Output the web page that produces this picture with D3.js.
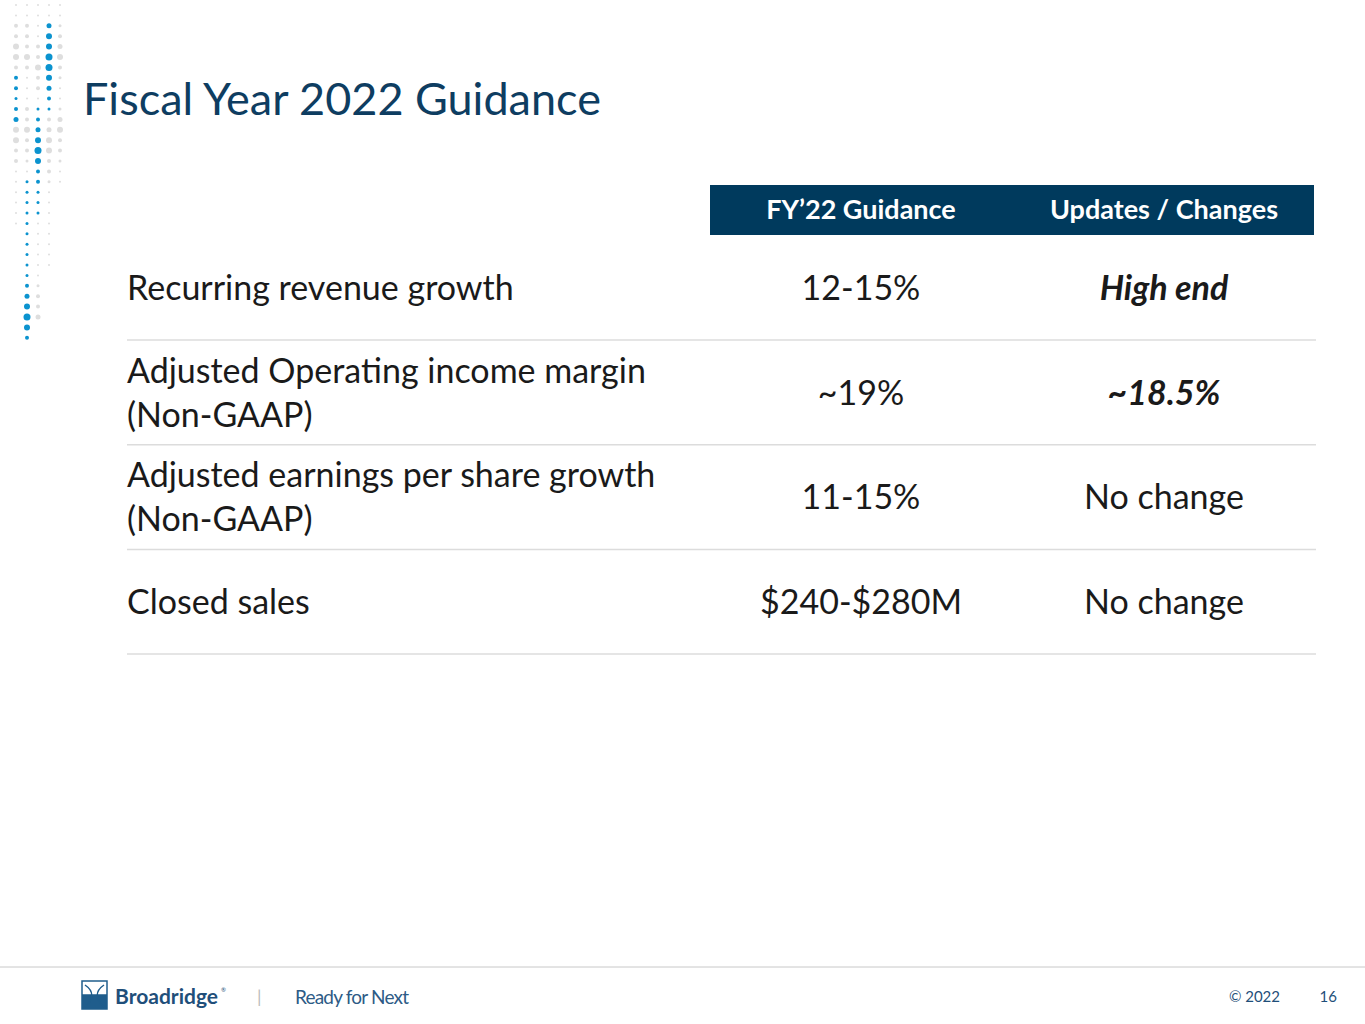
<!DOCTYPE html>
<html><head><meta charset="utf-8">
<script src="https://cdn.jsdelivr.net/npm/d3@7"></script>
<style>body{margin:0;background:#fff}svg{display:block;font-family:Lato,"Open Sans",sans-serif}</style>
</head><body><svg id="slide"></svg>
<script>
const metrics = [["Recurring revenue growth"], ["Adjusted Operating income margin", "(Non-GAAP)"],
  ["Adjusted earnings per share growth", "(Non-GAAP)"], ["Closed sales"]];
const guidance = ["12-15%", "~19%", "11-15%", "$240-$280M"];
const updates = ["High end", "~18.5%", "No change", "No change"];
const emphasised = [true, true, false, false];
const headers = ["FY\u201922 Guidance", "Updates / Changes"];
// decorative dot columns: [column, row, radius, blue?]
const dotCols = [
  [[1,0,1,0],[1,1,1,0],[1,2,2,0],[1,3,2,0],[1,4,3,0],[1,5,3,0],[1,6,2,0],[1,7,2,1],[1,8,2,1],[1,9,1.5,1],[1,10,2,1],[1,11,2.5,1],[1,12,3,0],[1,13,3,0],[1,14,2,0],[1,15,2,0],[1,16,1,0],[1,17,1,0],[1,18,1,0],[1,19,1,0],[1,20,1,0],[1,21,1,0]],
  [[2,0,1,0],[2,1,1,0],[2,2,2,0],[2,3,2,0],[2,4,2,0],[2,5,3,0],[2,6,2,0],[2,7,1,0],[2,8,1,0],[2,9,1,0],[2,10,2,0],[2,11,2,0],[2,12,3,0],[2,13,2,0],[2,14,2,0],[2,15,1.5,0],[2,16,1,0],[2,17,1.5,1],[2,18,1.5,1],[2,19,1.5,1],[2,20,1.5,1],[2,21,1.5,1],[2,22,1.5,1],[2,23,1.5,1],[2,24,1.5,1],[2,25,1.5,1],[2,26,1.5,1],[2,27,2,1],[2,28,2.5,1],[2,29,3,1],[2,30,3.5,1],[2,31,3,1],[2,32,2,1]],
  [[3,0,1,0],[3,1,1,0],[3,2,1,0],[3,3,1,0],[3,4,2,0],[3,5,2,0],[3,6,3,0],[3,7,2,0],[3,8,2,0],[3,9,1,0],[3,10,1.5,1],[3,11,2,1],[3,12,2.5,1],[3,13,3,1],[3,14,3.5,1],[3,15,3,1],[3,16,2,1],[3,17,2,1],[3,18,1.5,1],[3,19,1.5,1],[3,20,1.5,1],[3,21,1,0],[3,22,1,0],[3,23,1,0],[3,24,1,0],[3,25,1,0],[3,26,1,0],[3,27,1.5,0],[3,28,2,0],[3,29,2,0],[3,30,2.5,0]],
  [[4,0,1,0],[4,1,1,0],[4,2,2.5,1],[4,3,3,1],[4,4,3,1],[4,5,3.5,1],[4,6,3.5,1],[4,7,3,1],[4,8,2.5,1],[4,9,2,1],[4,10,1.5,1],[4,11,2,0],[4,12,2.5,0],[4,13,3,0],[4,14,3,0],[4,15,2,0],[4,16,2,0],[4,17,1.5,0],[4,18,1,0],[4,19,1,0],[4,20,1,0],[4,21,1,0],[4,22,1,0],[4,23,1,0],[4,24,1,0],[4,25,1,0]],
  [[5,0,1,0],[5,1,1,0],[5,2,1.5,0],[5,3,2,0],[5,4,2.5,0],[5,5,3,0],[5,6,2,0],[5,7,1.5,0],[5,8,1,0],[5,9,1,0],[5,10,1.5,0],[5,11,2.5,0],[5,12,3,0],[5,13,2,0],[5,14,2,0],[5,15,1.5,0],[5,16,1,0],[5,17,1,0]]
];

const W = 1365, H = 1024;
const svg = d3.select("#slide").attr("width", W).attr("height", H);
const navy = "#003a5d", ink = "#1a1a1a";

const dx = d3.scaleLinear().domain([0, 5]).range([5, 60]);
const dy = d3.scaleLinear().domain([0, 1]).range([5, 15.4]);
svg.append("g").selectAll("circle").data(dotCols.flat()).join("circle")
  .attr("cx", d => dx(d[0])).attr("cy", d => dy(d[1])).attr("r", d => d[2])
  .attr("fill", d => d[3] ? "#0b93cf" : "#dedede");

svg.append("text").attr("x", 83).attr("y", 115).attr("font-size", 45).attr("fill", "#0e3d61")
  .text("Fiscal Year 2022 Guidance");

const colX = d3.scalePoint().domain([0, 1]).range([861, 1164]);
svg.append("rect").attr("x", 710).attr("y", 185).attr("width", 604).attr("height", 50).attr("fill", navy);
svg.selectAll("text.hdr").data(headers).join("text").attr("class", "hdr")
  .attr("x", (d, i) => colX(i)).attr("y", 219).attr("text-anchor", "middle")
  .attr("font-size", 27).attr("font-weight", "bold").attr("fill", "#fff").text(d => d);

const rowY = d3.scaleLinear().domain([0, 1]).range([289, 393.7]);
const rows = svg.selectAll("g.row").data(metrics).join("g").attr("class", "row")
  .attr("transform", (d, i) => `translate(0,${rowY(i)})`);
rows.append("text").attr("x", 127).attr("font-size", 34).attr("fill", ink)
  .each(function (d) {
    const t = d3.select(this);
    d.forEach((line, j) => t.append("tspan").attr("x", 127)
      .attr("y", (j - (d.length - 1) / 2) * 44 + 11).text(line));
  });
rows.append("text").attr("x", colX(0)).attr("y", 11).attr("text-anchor", "middle")
  .attr("font-size", 34).attr("fill", ink).text((d, i) => guidance[i]);
rows.append("text").attr("x", colX(1)).attr("y", 11).attr("text-anchor", "middle")
  .attr("font-size", 34).attr("fill", ink)
  .attr("font-weight", (d, i) => emphasised[i] ? "bold" : "normal")
  .attr("font-style", (d, i) => emphasised[i] ? "italic" : "normal")
  .text((d, i) => updates[i]);
rows.append("line").attr("x1", 127).attr("x2", 1316).attr("y1", 51).attr("y2", 51)
  .attr("stroke", "#dcdcdc").attr("stroke-width", 1.5);

// footer
svg.append("line").attr("x1", 0).attr("x2", W).attr("y1", 967).attr("y2", 967).attr("stroke", "#c8c8c8");
const logo = svg.append("g").attr("transform", "translate(82,981)");
logo.append("rect").attr("width", 25).attr("height", 28).attr("fill", "#fff").attr("stroke", "#1f5d8c").attr("stroke-width", 1.5);
logo.append("rect").attr("y", 14).attr("width", 25).attr("height", 14).attr("fill", "#1f5d8c");
logo.append("path").attr("d", "M3,4 C12,10 12,18 3,26 M22,4 C13,10 13,18 22,26 M0,14 H25").attr("stroke", "#1f5d8c").attr("fill", "none").attr("stroke-width", 1.5);
svg.append("text").attr("x", 115).attr("y", 1004).attr("font-size", 21).attr("font-weight", "bold").attr("fill", "#1f4f7a").text("Broadridge");
svg.append("text").attr("x", 221).attr("y", 992).attr("font-size", 6).attr("fill", "#1f4f7a").text("\u00ae");
svg.append("text").attr("x", 257).attr("y", 1003).attr("font-size", 18).attr("fill", "#bbb").text("|");
svg.append("text").attr("x", 295).attr("y", 1004).attr("font-size", 19).attr("fill", "#2d5b86").attr("letter-spacing", -0.8).text("Ready for Next");
svg.append("text").attr("x", 1280).attr("y", 1002).attr("text-anchor", "end").attr("font-size", 15).attr("fill", "#1f4f7a").text("\u00a9 2022");
svg.append("text").attr("x", 1337).attr("y", 1002).attr("text-anchor", "end").attr("font-size", 15).attr("fill", "#1f4f7a").text("16");
</script></body></html>
